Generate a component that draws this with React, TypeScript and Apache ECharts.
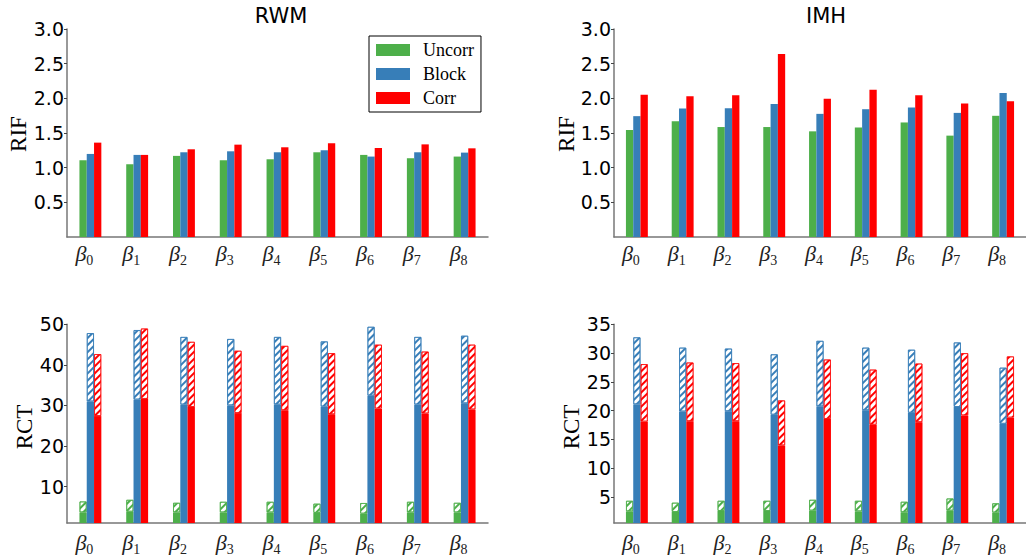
import React, { useEffect, useRef } from 'react';
import * as echarts from 'echarts';

const subscripts = ['0', '1', '2', '3', '4', '5', '6', '7', '8'];
const legendNames = ['Uncorr', 'Block', 'Corr'];

// RIF values
const rwmUncorr = [1.107, 1.05, 1.17, 1.107, 1.121, 1.222, 1.184, 1.136, 1.16];
const rwmBlock = [1.198, 1.184, 1.222, 1.236, 1.222, 1.251, 1.16, 1.222, 1.217];
const rwmCorr = [1.361, 1.184, 1.265, 1.332, 1.294, 1.351, 1.284, 1.336, 1.279];

const imhUncorr = [1.543, 1.671, 1.586, 1.586, 1.524, 1.581, 1.652, 1.462, 1.748];
const imhBlock = [1.743, 1.852, 1.857, 1.919, 1.776, 1.843, 1.867, 1.79, 2.076];
const imhCorr = [2.052, 2.029, 2.043, 2.638, 1.995, 2.124, 2.043, 1.924, 1.957];

// RCT values: solid part and total (hatched top)
const rwmRctUncorrSolid = [3.6, 3.78, 3.6, 3.6, 3.6, 3.47, 3.3, 3.6, 3.6];
const rwmRctUncorrTotal = [6.33, 6.73, 6.0, 6.25, 6.25, 5.78, 5.94, 6.25, 6.0];
const rwmRctBlockSolid = [30.96, 31.43, 30.2, 30.0, 30.2, 29.7, 32.4, 30.2, 30.5];
const rwmRctBlockTotal = [47.85, 48.6, 46.9, 46.4, 46.9, 45.8, 49.4, 46.9, 47.2];
const rwmRctCorrSolid = [27.37, 31.59, 29.6, 28.1, 28.8, 27.8, 29.2, 28.0, 29.0];
const rwmRctCorrTotal = [42.67, 48.98, 45.7, 43.5, 44.7, 42.9, 45.0, 43.3, 45.0];

const imhRctUncorrSolid = [2.52, 2.41, 2.58, 2.58, 2.64, 2.52, 2.36, 2.64, 2.3];
const imhRctUncorrTotal = [4.37, 4.04, 4.37, 4.37, 4.54, 4.37, 4.2, 4.77, 3.93];
const imhRctBlockSolid = [21.09, 19.85, 19.9, 19.3, 20.75, 20.08, 19.63, 20.64, 17.72];
const imhRctBlockTotal = [32.75, 30.96, 30.8, 29.8, 32.14, 30.96, 30.6, 31.86, 27.48];
const imhRctCorrSolid = [18.1, 18.17, 18.17, 13.97, 18.56, 17.55, 18.0, 19.18, 18.79];
const imhRctCorrTotal = [28.1, 28.38, 28.27, 21.8, 28.9, 27.15, 28.2, 30.0, 29.44];

const GREEN = '#4daf4a';
const BLUE = '#377eb8';
const RED = '#ff0000';
const GREEN_EDGE = 'rgba(77,175,74,0.75)';
const BLUE_EDGE = 'rgba(55,126,184,0.75)';
const RED_EDGE = 'rgba(255,0,0,0.65)';

const SANS = 'DejaVu Sans';
const SERIF = 'Liberation Serif';
const BAR_W = 7.3;

function App() {
  const ref = useRef<HTMLDivElement>(null);

  useEffect(() => {
    if (!ref.current) return;
    const chart = echarts.init(ref.current, null, { renderer: 'svg' });

    const grids = [
      { left: 67, top: 29, width: 421, height: 208 },
      { left: 614, top: 29, width: 426, height: 208 },
      { left: 67, top: 324.3, width: 421, height: 205 },
      { left: 614, top: 324.3, width: 426, height: 205 },
    ];

    const xAxes = grids.map((_, i) => ({
      type: 'category',
      gridIndex: i,
      data: subscripts,
      boundaryGap: true,
      axisLine: { show: true, lineStyle: { color: '#777', width: 1.5 } },
      axisTick: { show: false },
      axisLabel: {
        interval: 0,
        margin: i < 2 ? 5 : 8,
        padding: [0, 12, 0, 0],
        formatter: (v: string) => `{b|β}{s|${v}}`,
        rich: {
          b: { fontFamily: SERIF, fontStyle: 'italic', fontSize: 22, color: '#222', lineHeight: 22, verticalAlign: 'top' },
          s: { fontFamily: SERIF, fontSize: 14, color: '#222', padding: [11, 0, 0, 0], lineHeight: 14, verticalAlign: 'top' },
        },
      },
      splitLine: { show: false },
    }));

    const yCommon = {
      type: 'value',
      axisLine: { show: true, lineStyle: { color: '#777', width: 1.5 } },
      axisTick: { show: true, length: 3, lineStyle: { color: '#444' } },
      splitLine: { show: false },
    };
    const yLabel = (fmt: (v: number) => string) => ({
      fontFamily: SANS,
      fontSize: 19,
      color: '#000',
      margin: 3,
      showMinLabel: false,
      formatter: fmt,
    });

    const yAxes = [
      { ...yCommon, gridIndex: 0, min: 0, max: 3, interval: 0.5, axisLabel: yLabel((v) => v.toFixed(1)) },
      { ...yCommon, gridIndex: 1, min: 0, max: 3, interval: 0.5, axisLabel: yLabel((v) => v.toFixed(1)) },
      { ...yCommon, gridIndex: 2, min: 1, max: 50, splitNumber: 5, axisLabel: yLabel((v) => String(v)) },
      { ...yCommon, gridIndex: 3, min: 0.5, max: 35, splitNumber: 5, axisLabel: yLabel((v) => String(v)) },
    ];

    const solidBar = (name: string, data: number[], color: string, idx: number, stack?: string) => ({
      type: 'bar',
      name,
      xAxisIndex: idx,
      yAxisIndex: idx,
      data,
      stack,
      barWidth: BAR_W,
      barGap: '0%',
      itemStyle: { color },
    });

    const hatch = (color: string) => ({
      symbol: 'rect',
      symbolSize: 1,
      color,
      backgroundColor: '#ffffff',
      dashArrayX: [1, 0],
      dashArrayY: [1.1, 2.6],
      rotation: -Math.PI / 4,
    });

    const hatchBar = (name: string, solid: number[], total: number[], color: string, edge: string, idx: number, stack: string) => ({
      type: 'bar',
      name,
      xAxisIndex: idx,
      yAxisIndex: idx,
      data: total.map((t, k) => +(t - solid[k]).toFixed(3)),
      stack,
      barWidth: BAR_W,
      barGap: '0%',
      itemStyle: { color: '#ffffff', borderColor: edge, borderWidth: 1, decal: hatch(color) },
    });

    const series: any[] = [
      solidBar('Uncorr', rwmUncorr, GREEN, 0),
      solidBar('Block', rwmBlock, BLUE, 0),
      solidBar('Corr', rwmCorr, RED, 0),
      solidBar('Uncorr', imhUncorr, GREEN, 1),
      solidBar('Block', imhBlock, BLUE, 1),
      solidBar('Corr', imhCorr, RED, 1),

      solidBar('RWM Uncorr solid', rwmRctUncorrSolid, GREEN, 2, 'rwm-g'),
      hatchBar('RWM Uncorr hatch', rwmRctUncorrSolid, rwmRctUncorrTotal, GREEN, GREEN_EDGE, 2, 'rwm-g'),
      solidBar('RWM Block solid', rwmRctBlockSolid, BLUE, 2, 'rwm-b'),
      hatchBar('RWM Block hatch', rwmRctBlockSolid, rwmRctBlockTotal, BLUE, BLUE_EDGE, 2, 'rwm-b'),
      solidBar('RWM Corr solid', rwmRctCorrSolid, RED, 2, 'rwm-r'),
      hatchBar('RWM Corr hatch', rwmRctCorrSolid, rwmRctCorrTotal, RED, RED_EDGE, 2, 'rwm-r'),

      solidBar('IMH Uncorr solid', imhRctUncorrSolid, GREEN, 3, 'imh-g'),
      hatchBar('IMH Uncorr hatch', imhRctUncorrSolid, imhRctUncorrTotal, GREEN, GREEN_EDGE, 3, 'imh-g'),
      solidBar('IMH Block solid', imhRctBlockSolid, BLUE, 3, 'imh-b'),
      hatchBar('IMH Block hatch', imhRctBlockSolid, imhRctBlockTotal, BLUE, BLUE_EDGE, 3, 'imh-b'),
      solidBar('IMH Corr solid', imhRctCorrSolid, RED, 3, 'imh-r'),
      hatchBar('IMH Corr hatch', imhRctCorrSolid, imhRctCorrTotal, RED, RED_EDGE, 3, 'imh-r'),
    ];

    const gText = (text: string, x: number, y: number, font: string, size: number, rotate = 0) => ({
      type: 'text',
      x,
      y,
      rotation: rotate,
      style: {
        text,
        fontFamily: font,
        fontSize: size,
        fill: '#000',
        textAlign: 'center',
        textVerticalAlign: 'middle',
      },
    });

    chart.setOption({
      animation: false,
      backgroundColor: '#ffffff',
      grid: grids,
      xAxis: xAxes,
      yAxis: yAxes,
      legend: {
        data: legendNames,
        left: 369,
        top: 36,
        orient: 'vertical',
        icon: 'rect',
        itemWidth: 34,
        itemHeight: 12,
        itemGap: 6,
        padding: [5, 7, 5, 7],
        borderColor: '#000',
        borderWidth: 1,
        borderRadius: 0,
        textStyle: { fontFamily: SERIF, fontSize: 18, color: '#000', padding: [0, 0, 0, 8] },
      },
      graphic: [
        gText('RWM', 281, 16, SANS, 21),
        gText('IMH', 826, 16, SANS, 21),
        gText('RIF', 18, 134, SERIF, 23, Math.PI / 2),
        gText('RIF', 566, 134, SERIF, 23, Math.PI / 2),
        gText('RCT', 24, 427, SERIF, 23, Math.PI / 2),
        gText('RCT', 571, 427, SERIF, 23, Math.PI / 2),
      ],
      series,
    });

    return () => chart.dispose();
  }, []);

  return (
    <div
      ref={ref}
      style={{ position: 'fixed', left: 0, top: 0, width: 1026, height: 556, background: '#fff' }}
    />
  );
}

export default App;
